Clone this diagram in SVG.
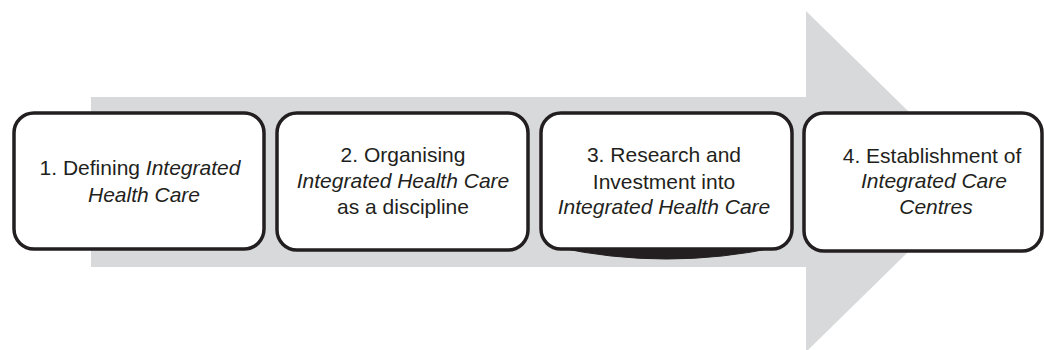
<svg xmlns="http://www.w3.org/2000/svg" width="1044" height="350" viewBox="0 0 1044 350">
  <style>
    .box { fill: #ffffff; stroke: #231f20; stroke-width: 3.5; }
    .t { font-family: "Liberation Sans", Arial, sans-serif; font-size: 21px; fill: #231f20; text-anchor: middle; }
    .i { font-style: italic; }
  </style>
  <rect width="1044" height="350" fill="#ffffff"/>
  <g id="connectors">
    <path id="arrow" d="M 91 97 L 806 97 L 806 11 L 980 181.5 L 806 352 L 806 267 L 91 267 Z" fill="#d8d9da"/>
  </g>
  <g id="node1">
    <rect class="box" x="14" y="113" width="250" height="136" rx="20"/>
    <text class="t" x="140" y="175">1. Defining <tspan class="i">Integrated</tspan></text>
    <text class="t i" x="144" y="202">Health Care</text>
  </g>
  <g id="node2">
    <rect class="box" x="277" y="113" width="251" height="137" rx="20"/>
    <text class="t" x="403" y="162">2. Organising</text>
    <text class="t i" x="403" y="188">Integrated Health Care</text>
    <text class="t" x="403" y="214">as a discipline</text>
  </g>
  <g id="node3">
    <path d="M 556 247 Q 666 271 778 247 Z" fill="#231f20" stroke="#231f20" stroke-width="1"/>
    <rect class="box" x="541" y="113" width="251" height="136" rx="20"/>
    <text class="t" x="664" y="162">3. Research and</text>
    <text class="t" x="664" y="189">Investment into</text>
    <text class="t i" x="664" y="214">Integrated Health Care</text>
  </g>
  <g id="node4">
    <rect class="box" x="804" y="113" width="238" height="138" rx="20"/>
    <text class="t" x="932" y="163">4. Establishment of</text>
    <text class="t i" x="934" y="188">Integrated Care</text>
    <text class="t i" x="936" y="214">Centres</text>
  </g>
</svg>
